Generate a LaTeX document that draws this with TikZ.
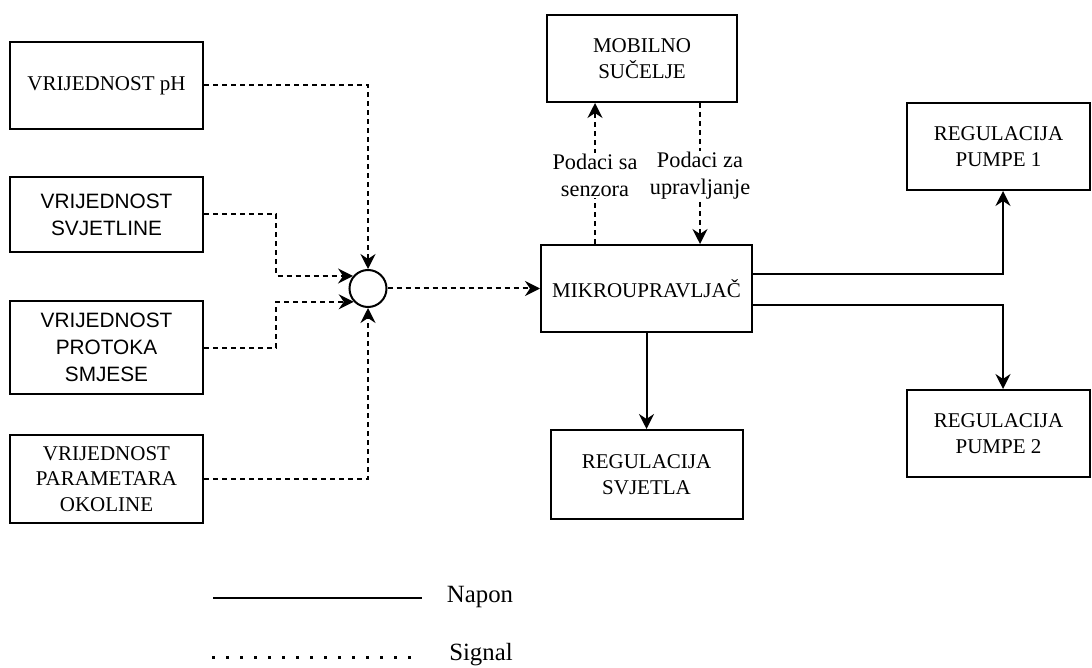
\documentclass[tikz,border=0pt]{standalone}
\usepackage{fontspec}
\setmainfont{Liberation Serif}
\newfontfamily\arialfont{Liberation Sans}
\usepackage{tikz}
\usetikzlibrary{positioning, arrows.meta}

\begin{document}
\begin{tikzpicture}[x=1pt, y=-1pt,
        box/.style={rectangle, draw, line width=2pt, align=center, inner sep=0pt,
            minimum width=193pt, font=\fontsize{21}{25.5}\selectfont},
        sansbox/.style={box, font=\arialfont\fontsize{20.8}{27}\selectfont},
        sig/.style={-{Stealth[length=15pt, width=15pt, inset=5pt]}, line width=2pt,
            dash pattern=on 5pt off 4pt},
        pwr/.style={-{Stealth[length=15pt, width=15pt, inset=5pt]}, line width=2pt},
        lab/.style={fill=white, align=center, inner sep=1pt, font=\fontsize{22.3}{27}\selectfont}]
        \useasboundingbox (0,0) rectangle (1092,668);
        % inputs
        \node [box, minimum height=87pt] (ph) at (106.5,85.5) {VRIJEDNOST pH};
        \node [sansbox, minimum height=75pt, below=46pt of ph] (svjetlina) {VRIJEDNOST\\SVJETLINE};
        \node [sansbox, minimum height=93pt, below=47pt of svjetlina] (protok) {VRIJEDNOST\\PROTOKA\\SMJESE};
        \node [box, minimum height=88pt, below=39pt of protok] (okolina) {VRIJEDNOST\\PARAMETARA\\OKOLINE};
        \node [circle, draw, line width=2pt, minimum size=37pt, inner sep=0pt] (sum) at (368,288.5) {};
        \coordinate (jl) at (276,0);
        % controller and outputs
        \node [box, minimum width=211pt, minimum height=87pt] (mikro) at (646.5,288.5) {MIKROUPRAVLJAČ};
        \node [box, minimum width=190pt, minimum height=87pt] (mobilno) at (642,58.5) {MOBILNO\\SUČELJE};
        \node [box, minimum width=192pt, minimum height=89pt, below=96pt of mikro] (svjetla) {REGULACIJA\\SVJETLA};
        \node [box, minimum width=183pt, minimum height=87pt] (pumpa1) at (998.5,146.5) {REGULACIJA\\PUMPE 1};
        \node [box, minimum width=183pt, minimum height=87pt] (pumpa2) at (998.5,433.5) {REGULACIJA\\PUMPE 2};
        % signals
        \draw [sig] (ph.east) -| (sum.north);
        \draw [sig] (svjetlina.east) -- (svjetlina.east -| jl) |- (sum.140);
        \draw [sig] (protok.east) -- (protok.east -| jl) |- (sum.223);
        \draw [sig] (okolina.east) -| (sum.south);
        \draw [sig] (sum.east) -- (sum.east -| mikro.west);
        \draw [sig] ([xshift=-51.5pt]mikro.north) coordinate (gore) -- (gore |- mobilno.south)
            node [lab, midway, yshift=-2pt] {Podaci sa\\senzora};
        \draw [sig] ([xshift=58pt]mobilno.south) coordinate (dolje) -- (dolje |- mikro.north)
            node [lab, midway, yshift=-2pt] {Podaci za\\upravljanje};
        % voltage
        \draw [pwr] ([yshift=14.5pt]mikro.east) -| ([xshift=4.5pt]pumpa1.south);
        \draw [pwr] ([yshift=-16.5pt]mikro.east) -| ([xshift=4.5pt]pumpa2.north);
        \draw [pwr] (mikro.south) -- (svjetla.north);
        % legend
        \coordinate (napon a) at (213,598);
        \coordinate (napon b) at (422,598);
        \node [font=\fontsize{24.8}{28}\selectfont] (napon) at (480,597) {Napon};
        \draw [line width=2pt] (napon a) -- (napon b);
        \coordinate (signal a) at (212,657);
        \coordinate (signal b) at (411,657);
        \node [font=\fontsize{24.8}{28}\selectfont] (signal) at (481,655) {Signal};
        \draw [line width=3pt, dash pattern=on 3pt off 11pt] (signal a) -- (signal b);
    \end{tikzpicture}
\end{document}
